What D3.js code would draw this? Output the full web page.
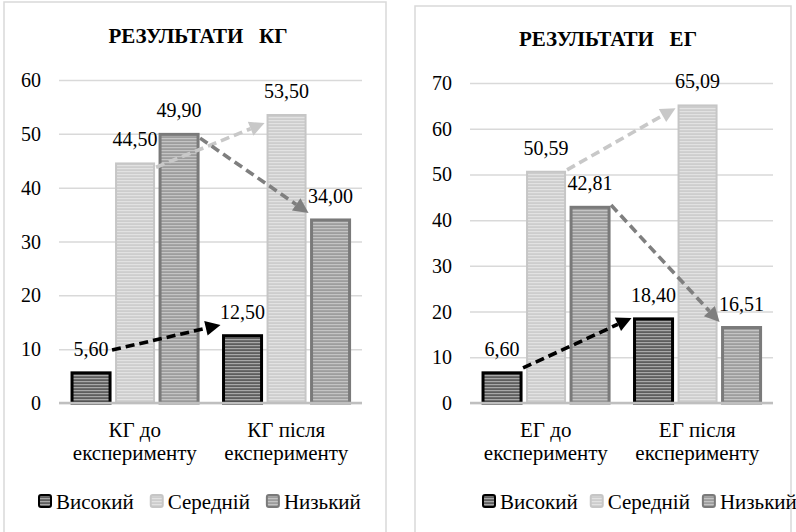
<!DOCTYPE html>
<html><head><meta charset="utf-8">
<script src="https://cdn.jsdelivr.net/npm/d3@7"></script>
</head><body style="margin:0;background:#fff"><svg id="c" width="796" height="532" style="display:block"></svg>
<script>
// ---------- data ----------
const seriesNames = ["Високий", "Середній", "Низький"];
const kgTitle = "РЕЗУЛЬТАТИ   КГ";
const egTitle = "РЕЗУЛЬТАТИ   ЕГ";
const kgCategories = [["КГ до", "експерименту"], ["КГ після", "експерименту"]];
const egCategories = [["ЕГ до", "експерименту"], ["ЕГ після", "експерименту"]];
const kgHigh = [5.60, 12.50];
const kgMid  = [44.50, 53.50];
const kgLow  = [49.90, 34.00];
const egHigh = [6.60, 18.40];
const egMid  = [50.59, 65.09];
const egLow  = [42.81, 16.51];
const kgTicks = [0, 10, 20, 30, 40, 50, 60];
const egTicks = [0, 10, 20, 30, 40, 50, 60, 70];
// arrow anchor values (start on "до" bar side, end at "після" bar), one per series
const kgArrowFrom = [9.85, 43.8, 49.2];
const kgArrowTo   = [14.5, 52.0, 35.3];
const egArrowFrom = [7.66, 51.0, 43.3];
const egArrowTo   = [18.6, 64.5, 17.7];

// ---------- style ----------
const svg = d3.select("#c");
const defs = svg.append("defs");
const looks = [
  {id: "hi",  bg: "#5e5e5e", line: "#a8a8a8", stroke: "#000000", sw: 3, arrow: "#000000"},
  {id: "mid", bg: "#cdcdcd", line: "#e2e2e2", stroke: "#c6c6c6", sw: 2, arrow: "#c8c8c8"},
  {id: "lo",  bg: "#9d9d9d", line: "#c4c4c4", stroke: "#7a7a7a", sw: 3, arrow: "#7f7f7f"}
];
looks.forEach(s => {
  const p = defs.append("pattern").attr("id", "p-" + s.id)
    .attr("patternUnits", "userSpaceOnUse").attr("width", 8).attr("height", 3);
  p.append("rect").attr("width", 8).attr("height", 3).attr("fill", s.bg);
  p.append("rect").attr("width", 8).attr("height", 1.2).attr("fill", s.line);
});

const marks = svg.append("g");   // shapes layer
// texts are appended straight to the svg root
function txt(x, y, s, size, anchor, bold) {
  const t = svg.append("text").attr("x", x).attr("y", y)
    .style("font-family", '"Liberation Serif"').style("font-size", size + "px")
    .attr("fill", "#000").attr("text-anchor", anchor || "start").text(s);
  if (bold) t.style("font-weight", "bold");
  return t;
}
const fmt = v => d3.format(".2f")(v).replace(".", ",");

function arrow(g, xA, yA, xB, yB, color) {
  const dx = xB - xA, dy = yB - yA, L = Math.hypot(dx, dy), ux = dx / L, uy = dy / L;
  const hl = 15, hw = 7.5;
  const bx = xB - ux * hl, by = yB - uy * hl;
  g.append("line").attr("x1", xA).attr("y1", yA).attr("x2", bx).attr("y2", by)
    .attr("stroke", color).attr("stroke-width", 3.6).attr("stroke-dasharray", "9,5");
  g.append("path")
    .attr("d", `M${xB},${yB}L${bx - uy * hw},${by + ux * hw}L${bx + uy * hw},${by - ux * hw}Z`)
    .attr("fill", color);
}

function drawPanel(o) {
  const g = marks.append("g");
  g.append("rect").attr("x", o.px).attr("y", o.py).attr("width", o.pw).attr("height", 600)
    .attr("fill", "#fff").attr("stroke", "#d9d9d9").attr("stroke-width", 1.5);

  txt(o.titleX, o.titleY, o.title, 21, "middle", true).style("white-space", "pre");

  const x0 = d3.scaleBand().domain(d3.range(o.categories.length)).range([o.left, o.right]);
  const bw = x0.bandwidth();
  const x1 = d3.scaleBand().domain(seriesNames).range([bw * 0.086, bw * 0.918]).paddingInner(0.136);
  const y = d3.scaleLinear().domain([0, o.ticks[o.ticks.length - 1]]).range([o.bottom, o.top]);

  // gridlines via axis (labels drawn as root texts)
  const ax = g.append("g").attr("transform", `translate(${o.left},0)`)
    .call(d3.axisLeft(y).tickValues(o.ticks).tickSize(-(o.right - o.left)).tickFormat(""));
  ax.select(".domain").remove();
  ax.selectAll(".tick text").remove();
  ax.selectAll(".tick line").attr("stroke", "#d9d9d9").attr("stroke-width", 1.5);
  o.ticks.forEach(t => txt(o.left - 18, y(t) + 7, d3.format("d")(t), 20, "end"));

  // bars
  const data = [];
  o.categories.forEach((c, ci) => seriesNames.forEach((s, si) => data.push({ci, si, s, v: o.series[si][ci]})));
  g.selectAll("rect.bar").data(data).enter().append("rect").attr("class", "bar")
    .attr("x", d => x0(d.ci) + x1(d.s)).attr("width", x1.bandwidth())
    .attr("y", d => y(d.v)).attr("height", d => y(0) - y(d.v))
    .attr("fill", d => `url(#p-${looks[d.si].id})`)
    .attr("stroke", d => looks[d.si].stroke).attr("stroke-width", d => looks[d.si].sw);

  // x axis line
  g.append("line").attr("x1", o.left).attr("x2", o.right).attr("y1", y(0)).attr("y2", y(0))
    .attr("stroke", "#bfbfbf").attr("stroke-width", 2.5);

  // arrows
  seriesNames.forEach((s, si) => {
    const xa = x0(0) + x1(s) + x1.bandwidth() + 2;
    const xb = x0(1) + x1(s) - 3;
    arrow(g, xa, y(o.arrowFrom[si]), xb, y(o.arrowTo[si]), looks[si].arrow);
  });

  // value labels
  data.forEach(d => txt(x0(d.ci) + x1(d.s) + x1.bandwidth() / 2, y(d.v) - 17, fmt(d.v), 20, "middle"));

  // category labels
  o.categories.forEach((lines, ci) => {
    lines.forEach((ln, li) => txt(x0(ci) + bw / 2, o.bottom + 34 + li * 23, ln, 21, "middle"));
  });

  // legend (laid out left to right)
  let lx = o.legendX;
  seriesNames.forEach((s, si) => {
    g.append("rect").attr("x", lx + 1).attr("y", o.legendY - 14).attr("width", 12).attr("height", 12)
      .attr("rx", 2).attr("fill", `url(#p-${looks[si].id})`)
      .attr("stroke", looks[si].stroke).attr("stroke-width", 2);
    const t = txt(lx + 18, o.legendY, s, 21, "start");
    lx += 18 + t.node().getComputedTextLength() + o.legendGap;
  });
}

drawPanel({
  px: 4, py: 2, pw: 382,
  title: kgTitle, titleX: 198, titleY: 43,
  categories: kgCategories, series: [kgHigh, kgMid, kgLow], ticks: kgTicks,
  arrowFrom: kgArrowFrom, arrowTo: kgArrowTo,
  left: 59, right: 362, top: 80, bottom: 403,
  legendX: 38, legendY: 509, legendGap: 16
});
drawPanel({
  px: 415, py: 6, pw: 376,
  title: egTitle, titleX: 608, titleY: 46,
  categories: egCategories, series: [egHigh, egMid, egLow], ticks: egTicks,
  arrowFrom: egArrowFrom, arrowTo: egArrowTo,
  left: 470, right: 773, top: 83, bottom: 403,
  legendX: 482, legendY: 509, legendGap: 12
});
</script></body></html>
